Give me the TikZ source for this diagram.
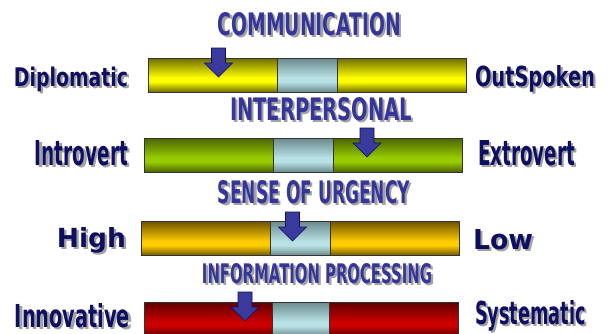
\documentclass[tikz,border=0pt]{standalone}
\usepackage{fontspec}
\setmainfont{DejaVu Sans}
\usepackage{graphicx}
\usepackage{xcolor}

\definecolor{navytext}{HTML}{0E0E62}
\definecolor{titleblue}{HTML}{35359A}
\definecolor{shadowgray}{HTML}{A2A2A2}
\definecolor{pointerblue}{HTML}{3A3A9C}
\definecolor{yellowdark}{HTML}{6E6C00}
\definecolor{yellowlight}{HTML}{FFFF00}
\definecolor{greendark}{HTML}{4A6400}
\definecolor{greenlight}{HTML}{99CC00}
\definecolor{golddark}{HTML}{705500}
\definecolor{goldlight}{HTML}{FFCC00}
\definecolor{reddark}{HTML}{5E0000}
\definecolor{redlight}{HTML}{CC0000}
\definecolor{middark}{HTML}{6A8A8C}
\definecolor{midlight}{HTML}{B9E2E6}

% bars are dark at the edges, brightest a bit below the middle
\pgfdeclareverticalshading{yellowshade}{100bp}{color(0bp)=(yellowdark); color(25bp)=(yellowdark); color(40bp)=(yellowlight); color(46bp)=(yellowlight); color(75bp)=(yellowdark); color(100bp)=(yellowdark)}
\pgfdeclareverticalshading{greenshade}{100bp}{color(0bp)=(greendark); color(25bp)=(greendark); color(40bp)=(greenlight); color(46bp)=(greenlight); color(75bp)=(greendark); color(100bp)=(greendark)}
\pgfdeclareverticalshading{goldshade}{100bp}{color(0bp)=(golddark); color(25bp)=(golddark); color(40bp)=(goldlight); color(46bp)=(goldlight); color(75bp)=(golddark); color(100bp)=(golddark)}
\pgfdeclareverticalshading{redshade}{100bp}{color(0bp)=(reddark); color(25bp)=(reddark); color(40bp)=(redlight); color(46bp)=(redlight); color(75bp)=(reddark); color(100bp)=(reddark)}
\pgfdeclareverticalshading{midshade}{100bp}{color(0bp)=(middark); color(25bp)=(middark); color(40bp)=(midlight); color(46bp)=(midlight); color(75bp)=(middark); color(100bp)=(middark)}

% text with a grey drop shadow behind it
\newcommand{\shadowed}[2]{%
    \makebox[0pt][l]{\hspace{2.2pt}\raisebox{-2.4pt}{\color{shadowgray}#2}}{\color{#1}#2}}
% squeeze bold text to a given width and height
\newcommand{\squeeze}[3]{\resizebox{#1}{#2}{\bfseries #3}}

\tikzset{%
    % Specifications for style of nodes:
    plain/.style = {inner sep=0pt, outer sep=0pt},
    bar/.style = {
        plain,
        rectangle, draw=black!80, line width=0.8pt,
        minimum width=318pt, minimum height=34pt
    },
    midzone/.style = {bar, minimum width=60pt, shading=midshade},
    yellowbar/.style = {shading=yellowshade},
    greenbar/.style = {shading=greenshade},
    goldbar/.style = {shading=goldshade},
    redbar/.style = {shading=redshade},
    side/.style = {plain, font=\bfseries},
    heading/.style = {plain, anchor=base},
    pointer/.pic = {
        \draw[fill=pointerblue, draw=navytext, line width=0.6pt]
            (-7,0) -- (7,0) -- (7,15) -- (14,15) -- (0,29) -- (-14,15) -- (-7,15) -- cycle;
    }
}

\begin{document}
\begin{tikzpicture}[x=1pt, y=-1pt]
    \clip (0,0) rectangle (608,333);
    \fill[white] (0,0) rectangle (608,333);

    % headings
    \node[heading] (communication) at (309.5,35) {\shadowed{titleblue}{\squeeze{183pt}{23pt}{COMMUNICATION}}};
    \node[heading] (interpersonal) at (321,120) {\shadowed{titleblue}{\squeeze{182pt}{23pt}{INTERPERSONAL}}};
    \node[heading] (urgency) at (314,203) {\shadowed{titleblue}{\squeeze{192pt}{23pt}{SENSE OF URGENCY}}};
    \node[heading] (processing) at (317,283) {\shadowed{titleblue}{\squeeze{230pt}{20pt}{INFORMATION PROCESSING}}};

    % scales
    \node[bar, yellowbar] (communication-bar) at (307,75) {};
    \node[midzone] (communication-mid) at (communication-bar.center) {};
    \node[bar, greenbar] (interpersonal-bar) at (303,155) {};
    \node[midzone] (interpersonal-mid) at (interpersonal-bar.center) {};
    \node[bar, goldbar] (urgency-bar) at (300,238.5) {};
    \node[midzone] (urgency-mid) at (urgency-bar.center) {};
    \node[bar, redbar, minimum width=314pt] (processing-bar) at (301,319) {};
    \node[midzone, minimum width=57pt] (processing-mid) at (processing-bar.center) {};

    % markers
    \pic at (218.5,48) {pointer};
    \pic at (367,128) {pointer};
    \pic at (292.5,212) {pointer};
    \pic at (245,292) {pointer};

    % end labels
    \node[side, anchor=base east] (diplomatic) at (128,86) {\shadowed{navytext}{\squeeze{114pt}{19.5pt}{Diplomatic}}};
    \node[side, anchor=base east] (introvert) at (128,165) {\shadowed{navytext}{\squeeze{93pt}{25pt}{Introvert}}};
    \node[side, anchor=base east] (high) at (126,247) {\shadowed{navytext}{\squeeze{69pt}{20pt}{High}}};
    \node[side, anchor=base east] (innovative) at (130,327) {\shadowed{navytext}{\squeeze{115pt}{24pt}{Innovative}}};
    \node[side, anchor=base west] (outspoken) at (475,86) {\shadowed{navytext}{\squeeze{120pt}{21pt}{OutSpoken}}};
    \node[side, anchor=base west] (extrovert) at (478,165) {\shadowed{navytext}{\squeeze{97pt}{25pt}{Extrovert}}};
    \node[side, anchor=base west] (low) at (473,249) {\shadowed{navytext}{\squeeze{60pt}{20pt}{Low}}};
    \node[side, anchor=base west] (systematic) at (475,324) {\shadowed{navytext}{\squeeze{111pt}{24pt}{Systematic}}};
\end{tikzpicture}
\end{document}
